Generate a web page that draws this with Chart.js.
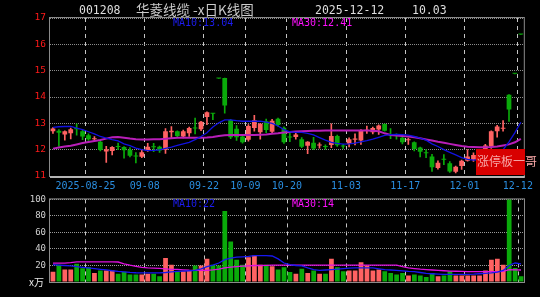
<!DOCTYPE html>
<html>
<head>
<meta charset="utf-8">
<script src="https://cdn.jsdelivr.net/npm/chart.js@4.4.1/dist/chart.umd.min.js"></script>
<style>
  body { margin: 0; background: #000; width: 540px; height: 297px; overflow: hidden; position: relative; }
  canvas { position: absolute; left: 0; }
  #kline { top: 0; }
  #vol { top: 190px; }
  .txt { position: absolute; white-space: nowrap; font-family: "DejaVu Sans Mono", monospace; }
  .cjk { font-family: "Noto Sans CJK SC", sans-serif; }
  #tag { position: absolute; left: 476px; top: 149px; width: 49px; height: 26px; background: #d80000; }
  #tag span { position: absolute; left: 1px; top: 3px; font-size: 12px; line-height: 18px; color: #f6a6a6; white-space: nowrap; }
</style>
</head>
<body>
<canvas id="kline" width="540" height="190"></canvas>
<canvas id="vol" width="540" height="107"></canvas>

<div class="txt" style="left:79px;top:3px;font-size:11.5px;line-height:14px;color:#dedede">001208</div>
<div class="txt cjk" style="left:136px;top:2px;font-size:13.5px;line-height:14px;color:#cacaca">华菱线缆 -x日K线图</div>
<div class="txt" style="left:315px;top:3px;font-size:11.5px;line-height:14px;color:#dedede">2025-12-12</div>
<div class="txt" style="left:412px;top:3px;font-size:11.5px;line-height:14px;color:#dedede">10.03</div>

<div class="txt" style="left:173px;top:17px;font-size:10px;line-height:12px;color:#1c1cf0">MA10:13.04</div>
<div class="txt" style="left:292px;top:17px;font-size:10px;line-height:12px;color:#ff10ff">MA30:12.41</div>
<div class="txt" style="left:173px;top:198px;font-size:10px;line-height:12px;color:#1c1cf0">MA10:22</div>
<div class="txt" style="left:292px;top:198px;font-size:10px;line-height:12px;color:#ff10ff">MA30:14</div>
<div class="txt cjk" style="left:29px;top:276px;font-size:10px;line-height:12px;color:#e8e8e8">x万</div>

<div id="tag"><span class="cjk">涨停板一哥</span></div>

<script>
// trading days 2025-08-15 .. 2025-12-12
const dates = [
  '08-15','08-18','08-19','08-20','08-21','08-22','08-25','08-26','08-27','08-28','08-29',
  '09-01','09-02','09-03','09-04','09-05','09-08','09-09','09-10','09-11','09-12',
  '09-15','09-16','09-17','09-18','09-19','09-22','09-23','09-24','09-25','09-26','09-29','09-30',
  '10-09','10-10','10-13','10-14','10-15','10-16','10-17','10-20','10-21','10-22','10-23','10-24',
  '10-27','10-28','10-29','10-30','10-31',
  '11-03','11-04','11-05','11-06','11-07','11-10','11-11','11-12','11-13','11-14',
  '11-17','11-18','11-19','11-20','11-21','11-24','11-25','11-26','11-27','11-28',
  '12-01','12-02','12-03','12-04','12-05','12-08','12-09','12-10','12-11','12-12'
]
const tickDates = ['08-25','09-08','09-22','10-09','10-20','11-03','11-17','12-01','12-12']

const openP = [12.70,12.72,12.58,12.62,12.82,12.70,12.55,12.40,12.30,11.93,
  11.95,12.14,12.10,12.00,11.78,11.73,11.95,12.12,12.11,12.00,
  12.66,12.70,12.50,12.62,12.82,12.78,13.24,13.38,14.70,14.72,
  13.13,12.79,12.50,12.38,12.82,12.66,13.08,12.68,13.17,12.83,
  12.48,12.48,12.40,12.15,12.26,12.16,12.12,12.18,12.52,12.14,
  12.22,12.38,12.35,12.72,12.66,12.77,12.97,12.58,12.55,12.45,
  12.36,12.28,12.08,11.88,11.74,11.30,11.64,11.48,11.16,11.38,
  11.58,11.62,11.72,11.90,12.12,12.70,12.79,14.09,14.88,16.37]
const highP = [12.84,12.76,12.72,12.82,12.98,12.74,12.60,12.50,12.32,12.13,
  12.12,12.25,12.12,12.08,11.89,12.00,12.24,12.24,12.14,12.80,
  12.88,12.72,12.74,12.86,13.20,13.08,13.44,13.38,14.70,14.72,
  13.15,12.91,12.55,12.95,13.30,13.00,13.16,13.15,13.20,12.87,
  12.64,12.64,12.46,12.31,12.47,12.26,12.18,12.98,12.55,12.20,
  12.45,12.60,12.76,12.90,12.86,12.94,12.98,12.80,12.60,12.55,
  12.44,12.30,12.10,12.00,11.82,11.58,11.81,11.55,11.38,11.60,
  12.00,11.88,11.98,12.20,12.72,12.92,13.10,14.09,14.88,16.37]
const lowP = [12.62,12.12,12.36,12.41,12.55,12.38,12.35,12.33,11.95,11.52,
  11.80,12.00,11.68,11.72,11.50,11.70,11.93,11.92,11.90,11.86,
  12.43,12.48,12.45,12.50,12.60,12.72,12.95,13.14,14.70,13.39,
  12.42,12.35,12.25,12.32,12.70,12.40,12.65,12.62,12.88,12.24,
  12.30,12.40,12.08,11.85,12.00,12.06,12.02,12.08,12.12,12.05,
  12.10,12.18,12.20,12.62,12.60,12.58,12.70,12.42,12.40,12.22,
  12.20,11.95,11.72,11.70,11.17,11.26,11.43,11.14,11.12,11.25,
  11.56,11.55,11.65,11.82,12.05,12.47,12.70,13.07,14.88,16.37]
const closeP = [12.80,12.64,12.70,12.78,12.78,12.50,12.40,12.42,11.99,12.02,
  12.10,12.10,11.98,11.77,11.74,11.90,12.11,12.09,11.97,12.70,
  12.72,12.52,12.70,12.82,12.80,13.06,13.42,13.36,14.70,13.68,
  12.47,12.47,12.28,12.90,13.12,12.98,12.75,13.10,12.94,12.28,
  12.46,12.58,12.11,12.30,12.04,12.18,12.10,12.52,12.17,12.12,
  12.40,12.42,12.74,12.75,12.82,12.92,12.72,12.56,12.52,12.28,
  12.40,12.03,11.92,11.86,11.33,11.50,11.62,11.17,11.35,11.58,
  11.74,11.80,11.95,12.16,12.70,12.88,12.81,13.53,14.88,16.37]

const ma10 = [12.85,12.87,12.88,12.88,12.82,12.76,12.68,12.60,12.50,12.44,
  12.38,12.33,12.22,12.15,12.06,12.00,11.96,11.97,11.99,12.05,
  12.10,12.16,12.22,12.28,12.38,12.50,12.64,12.86,13.02,13.13,
  13.13,13.10,13.08,13.08,13.08,13.08,13.05,13.00,12.90,12.76,
  12.68,12.66,12.66,12.62,12.56,12.46,12.36,12.28,12.24,12.21,
  12.22,12.25,12.30,12.34,12.40,12.47,12.54,12.57,12.58,12.57,
  12.55,12.50,12.44,12.36,12.22,12.12,12.00,11.90,11.80,11.70,
  11.63,11.60,11.62,11.70,11.80,11.90,12.00,12.30,12.65,13.04]
const ma30 = [12.04,12.08,12.12,12.15,12.20,12.25,12.29,12.33,12.37,12.42,
  12.47,12.48,12.45,12.42,12.40,12.39,12.39,12.40,12.40,12.41,
  12.43,12.45,12.45,12.45,12.45,12.45,12.46,12.48,12.52,12.55,
  12.56,12.56,12.56,12.56,12.56,12.57,12.58,12.60,12.62,12.65,
  12.67,12.69,12.70,12.71,12.72,12.72,12.73,12.73,12.73,12.73,
  12.73,12.73,12.73,12.73,12.72,12.70,12.62,12.56,12.54,12.52,
  12.50,12.47,12.43,12.39,12.35,12.30,12.26,12.22,12.18,12.14,
  12.11,12.10,12.09,12.09,12.10,12.12,12.16,12.20,12.28,12.41]

const volume = [12.5,21,15,15,22,16.5,18,11,14,14,
  14,10,12.5,9,9,9,10,10,7,29,
  21,12.5,13,14,20,20,28,21,20,86,
  49,27,21,30,32,21,21,19,15,18,
  12,10,16,11,14,10,10,28,18,13,
  14,14,24,20,14,15,13,11,9,11,
  8,9,8,6,11,7,8,13,8,8,
  8,8,8,14,27,28,21,130,17,7]
const volMa10 = [21,20.5,20,19.5,18.5,17.8,17,16.2,15.4,14.6,
  13.6,12.8,12.2,11.6,11.2,11,11,11,11,11.5,
  12.2,12.8,13.2,13.6,14,16,18.5,20.5,23,27,
  29,30,30.5,31,32,32,32,31.5,28,23,
  21,20,19.6,17,15,14,14.5,15,15.5,16.2,
  16.8,17,17,17,17,16,15,14.5,14,13.5,
  12.8,12.5,11.5,10.5,10,9.6,9.2,9.2,9.2,9.2,
  9.2,9.5,10,10.5,11,12,14,20,23,22]
const volMa30 = [22.8,22.8,22.8,23.5,24.4,24.4,24.4,24.4,24.4,24.4,
  24.4,24.2,22,20.4,19,17.6,17,16.8,16.5,16,
  15.4,15.2,14.8,14.2,14,14,14.2,14.6,15.5,17,
  18,18.6,19.2,19.6,20,20,20.2,20.4,20.4,20.4,
  20.4,20.4,20.4,20.4,20.4,20.4,20.4,20.4,20.4,20.4,
  20.4,20.4,20.4,20.4,20.4,20.4,20.4,20.4,20.4,18.5,
  17,16.2,15.5,15,14.5,14,13.6,13.2,13,12.8,
  12.5,12.5,12.5,12.5,12.5,12.5,12.8,15,14.8,14.5]

const UP = '#ff6262'
const DOWN = '#0aaa0a'
const candleColor = closeP.map((c, i) => c > openP[i] ? UP : DOWN)
const tickIdx = tickDates.map(d => dates.indexOf(d))
const monoFont = 'DejaVu Sans Mono'

// box round the plot area
const frame = {
  id: 'frame',
  afterDraw(chart, args, opts) {
    const { ctx, chartArea: a } = chart
    ctx.save()
    ctx.strokeStyle = opts.color
    ctx.lineWidth = 1
    ctx.strokeRect(a.left - 0.5, a.top - 0.5, a.right - a.left + 1, a.bottom - a.top + 1)
    if (opts.bottom) {
      ctx.strokeStyle = opts.bottomColor
      ctx.lineWidth = opts.bottom
      ctx.beginPath()
      ctx.moveTo(a.left, a.bottom + 1)
      ctx.lineTo(a.right + 1, a.bottom + 1)
      ctx.stroke()
    }
    ctx.restore()
  }
}

function xAxis(showLabels, height) {
  return {
    type: 'category',
    offset: true,
    afterFit: s => { s.height = height },
    grid: {
      offset: true,
      drawTicks: false,
      color: c => tickIdx.includes(c.index) ? '#c4c4c4' : 'transparent'
    },
    border: { display: false, dash: [4, 4] },
    ticks: {
      display: showLabels,
      autoSkip: false,
      maxRotation: 0,
      padding: 4,
      labelOffset: -3,
      color: '#2a8ee0',
      font: { family: monoFont, size: 10 },
      callback: (v, i) => {
        const k = tickIdx.indexOf(i)
        if (k < 0) return ''
        return (k === 0 ? '2025-' : '') + dates[i]
      }
    }
  }
}

function lineSet(data, color, width) {
  return { type: 'line', data: data, borderColor: color, borderWidth: width, pointRadius: 0, tension: 0, order: 0 }
}

const baseOpts = {
  responsive: false,
  animation: false,
  devicePixelRatio: 1,
  plugins: { legend: { display: false }, tooltip: { enabled: false } }
}

new Chart(document.getElementById('kline'), {
  type: 'bar',
  data: {
    labels: dates,
    datasets: [
      lineSet(ma10, '#1212e0', 1.3),
      lineSet(ma30, '#b81eb8', 2),
      {
        data: openP.map((o, i) => [o, closeP[i]]),
        backgroundColor: candleColor,
        barPercentage: 0.8,
        categoryPercentage: 1,
        grouped: false,
        minBarLength: 1,
        order: 1
      },
      {
        data: lowP.map((l, i) => [l, highP[i]]),
        backgroundColor: candleColor,
        barThickness: 1,
        grouped: false,
        order: 2
      }
    ]
  },
  options: {
    ...baseOpts,
    layout: { padding: { top: 18, right: 16, left: 0, bottom: 0 } },
    scales: {
      x: xAxis(true, 14),
      y: {
        min: 11,
        max: 17,
        afterFit: s => { s.width = 50 },
        ticks: { stepSize: 1, padding: 4, color: '#ff1a1a', font: { family: monoFont, size: 9.5 } },
        grid: { drawTicks: false, color: '#8c8c8c' },
        border: { display: false, dash: [1, 1] }
      }
    },
    plugins: { ...baseOpts.plugins, frame: { color: '#8a8a8a', bottom: 2, bottomColor: '#b4b4b4' } }
  },
  plugins: [frame]
})

new Chart(document.getElementById('vol'), {
  type: 'bar',
  data: {
    labels: dates,
    datasets: [
      lineSet(volMa10, '#1818f0', 1.3),
      lineSet(volMa30, '#e010e0', 1.3),
      {
        data: volume,
        backgroundColor: candleColor,
        barPercentage: 0.8,
        categoryPercentage: 1,
        order: 1
      }
    ]
  },
  options: {
    ...baseOpts,
    layout: { padding: { top: 9, right: 16, left: 0, bottom: 0 } },
    scales: {
      x: xAxis(false, 15),
      y: {
        min: 0,
        max: 100,
        afterFit: s => { s.width = 50 },
        ticks: { stepSize: 20, padding: 4, color: '#d0d0d0', font: { family: monoFont, size: 9 },
          callback: v => v === 0 ? '' : v },
        grid: { drawTicks: false, color: '#9a9a9a' },
        border: { display: false, dash: [1, 1] }
      }
    },
    plugins: { ...baseOpts.plugins, frame: { color: '#8a8a8a' } }
  },
  plugins: [frame]
})
</script>
</body>
</html>
